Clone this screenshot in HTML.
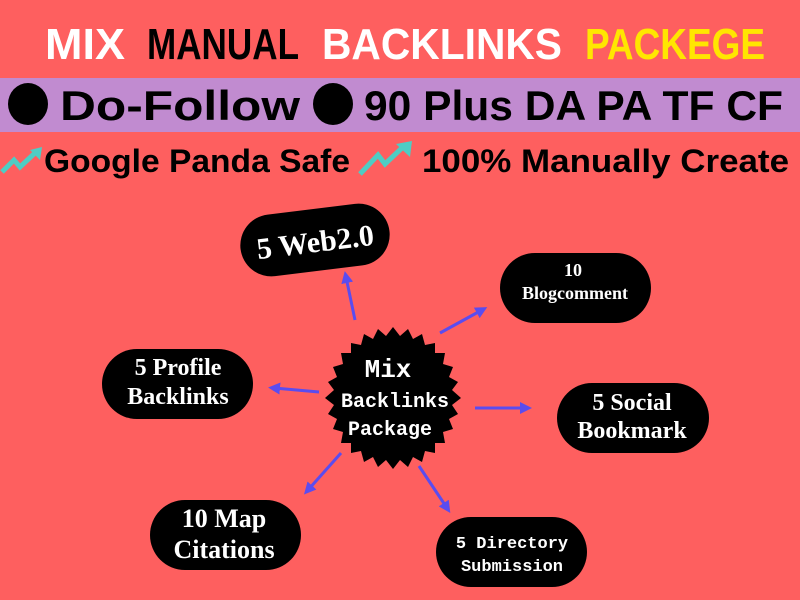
<!DOCTYPE html>
<html><head><meta charset="utf-8"><style>
html,body{margin:0;padding:0;background:#fe5f5f;}
svg{display:block}
</style></head><body>
<svg width="800" height="600" viewBox="0 0 800 600" xmlns="http://www.w3.org/2000/svg">
<rect width="800" height="600" fill="#fe5f5f"/>
<g font-family="Liberation Sans, sans-serif" font-weight="bold" font-size="44">
<text x="45" y="59" fill="#ffffff" textLength="80" lengthAdjust="spacingAndGlyphs">MIX</text>
<text x="147" y="59" fill="#000" textLength="152" lengthAdjust="spacingAndGlyphs">MANUAL</text>
<text x="322" y="59" fill="#ffffff" textLength="240" lengthAdjust="spacingAndGlyphs">BACKLINKS</text>
<text x="585" y="59" fill="#ffe600" textLength="180" lengthAdjust="spacingAndGlyphs">PACKEGE</text>
</g>
<rect x="0" y="78" width="800" height="54" fill="#c18bd0"/>
<g font-family="Liberation Sans, sans-serif" font-weight="bold" font-size="42" fill="#000">
<ellipse cx="28" cy="104" rx="20" ry="21"/>
<text x="60" y="120" textLength="240" lengthAdjust="spacingAndGlyphs">Do-Follow</text>
<ellipse cx="333" cy="104" rx="20" ry="21"/>
<text x="364" y="120" textLength="419" lengthAdjust="spacingAndGlyphs">90 Plus DA PA TF CF</text>
</g>
<g fill="none" stroke="#4ecdc4" stroke-width="5">
<polyline points="2,172 14,160 20,167 36,152"/>
<polyline points="360,174 378,155 385,164 404,146"/>
</g>
<polygon points="30,150 42,147 40,160" fill="#4ecdc4"/>
<polygon points="396,144 412,141 410,157" fill="#4ecdc4"/>
<g font-family="Liberation Sans, sans-serif" font-weight="bold" font-size="32" fill="#000">
<text x="44" y="172" textLength="306" lengthAdjust="spacingAndGlyphs">Google Panda Safe</text>
<text x="422" y="172" textLength="367" lengthAdjust="spacingAndGlyphs">100% Manually Create</text>
</g>
<defs><marker id="a" markerWidth="4" markerHeight="4" refX="2" refY="2" orient="auto" markerUnits="strokeWidth"><path d="M0,0 L4,2 L0,4 Z" fill="#5a4cf0"/></marker></defs>
<g stroke="#5a4cf0" stroke-width="3" marker-end="url(#a)">
<line x1="355" y1="320" x2="346" y2="277"/>
<line x1="440" y1="333" x2="482" y2="310"/>
<line x1="319" y1="392" x2="274" y2="388"/>
<line x1="475" y1="408" x2="526" y2="408"/>
<line x1="341" y1="453" x2="308" y2="490"/>
<line x1="419" y1="466" x2="447" y2="508"/>
</g>
<polygon fill="#000" points="
393,327 400,336 408,329 413,339 422,334 425,345 435,343 435,353 445,353 443,364 453,367 449,377 458,382 452,390 461,398 452,405 458,414 449,419 453,429 443,432 445,443 435,443 435,453 425,451 422,462 413,457 408,467 400,460 393,469 386,460 378,467 373,457 364,462 361,451 351,453 351,443 341,443 343,432 333,429 337,419 328,414 334,405 325,398 334,390 328,382 337,377 333,367 343,364 341,353 351,353 351,343 361,345 364,334 373,339 378,329 386,336"/>
<g font-family="Liberation Mono, monospace" font-weight="bold" fill="#fff" text-anchor="middle">
<text x="388" y="377" font-size="26">Mix</text>
<text x="395" y="407" font-size="20">Backlinks</text>
<text x="390" y="435" font-size="20">Package</text>
</g>
<g fill="#000">
<rect x="240" y="209" width="150" height="62" rx="31" transform="rotate(-7 315 240)"/>
<rect x="500" y="253" width="151" height="70" rx="35"/>
<rect x="102" y="349" width="151" height="70" rx="35"/>
<rect x="557" y="383" width="152" height="70" rx="35"/>
<rect x="150" y="500" width="151" height="70" rx="35"/>
<rect x="436" y="517" width="151" height="70" rx="35"/>
</g>
<g font-family="Liberation Serif, serif" font-weight="bold" fill="#fff" text-anchor="middle">
<text x="315" y="252" font-size="30" transform="rotate(-7 315 240)">5 Web2.0</text>
<text x="573" y="276" font-size="18">10</text>
<text x="575" y="299" font-size="18">Blogcomment</text>
<text x="178" y="375" font-size="24">5 Profile</text>
<text x="178" y="404" font-size="24">Backlinks</text>
<text x="632" y="410" font-size="24">5 Social</text>
<text x="632" y="438" font-size="24">Bookmark</text>
<text x="224" y="527" font-size="26">10 Map</text>
<text x="224" y="558" font-size="26">Citations</text>
</g>
<g font-family="Liberation Mono, monospace" font-weight="bold" fill="#fff" text-anchor="middle" font-size="17">
<text x="512" y="548">5 Directory</text>
<text x="512" y="571">Submission</text>
</g>
</svg>
</body></html>
